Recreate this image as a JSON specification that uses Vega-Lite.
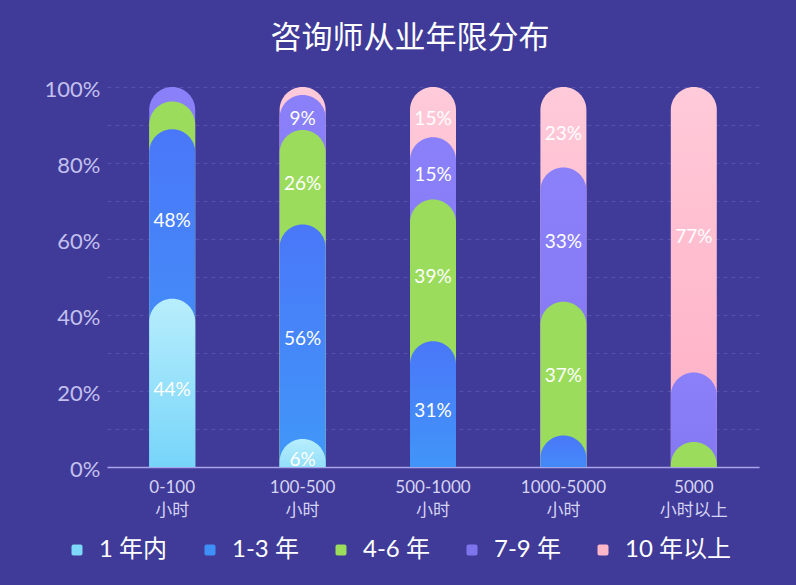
{
  "$schema": "https://vega.github.io/schema/vega-lite/v6.json",
  "width": 652,
  "height": 380,
  "autosize": {"type": "none"},
  "padding": {"left": 107, "top": 87, "right": 37, "bottom": 118},
  "background": "#403b98",
  "title": {
    "text": "咨询师从业年限分布",
    "font": "Noto Sans CJK SC",
    "fontSize": 31,
    "fontWeight": "normal",
    "color": "#ffffff",
    "offset": 23,
    "dx": -23
  },
  "data": {
    "values": [
      {"g": "0-100 小时", "c": "1 年内", "k": 1, "v": 44.3, "label": "44%"},
      {"g": "0-100 小时", "c": "1-3 年", "k": 2, "v": 44.6, "label": "48%"},
      {"g": "0-100 小时", "c": "4-6 年", "k": 3, "v": 7.3, "label": ""},
      {"g": "0-100 小时", "c": "7-9 年", "k": 4, "v": 3.8, "label": ""},
      {"g": "100-500 小时", "c": "1 年内", "k": 1, "v": 7.4, "label": "6%"},
      {"g": "100-500 小时", "c": "1-3 年", "k": 2, "v": 56.4, "label": "56%"},
      {"g": "100-500 小时", "c": "4-6 年", "k": 3, "v": 24.9, "label": "26%"},
      {"g": "100-500 小时", "c": "7-9 年", "k": 4, "v": 9.2, "label": "9%"},
      {"g": "100-500 小时", "c": "10 年以上", "k": 5, "v": 2.1, "label": ""},
      {"g": "500-1000 小时", "c": "1-3 年", "k": 2, "v": 33.1, "label": "31%"},
      {"g": "500-1000 小时", "c": "4-6 年", "k": 3, "v": 37.3, "label": "39%"},
      {"g": "500-1000 小时", "c": "7-9 年", "k": 4, "v": 16.4, "label": "15%"},
      {"g": "500-1000 小时", "c": "10 年以上", "k": 5, "v": 13.2, "label": "15%"},
      {"g": "1000-5000 小时", "c": "1-3 年", "k": 2, "v": 8.3, "label": ""},
      {"g": "1000-5000 小时", "c": "4-6 年", "k": 3, "v": 35.2, "label": "37%"},
      {"g": "1000-5000 小时", "c": "7-9 年", "k": 4, "v": 35.3, "label": "33%"},
      {"g": "1000-5000 小时", "c": "10 年以上", "k": 5, "v": 21.2, "label": "23%"},
      {"g": "5000 小时以上", "c": "4-6 年", "k": 3, "v": 6.6, "label": ""},
      {"g": "5000 小时以上", "c": "7-9 年", "k": 4, "v": 18.3, "label": ""},
      {"g": "5000 小时以上", "c": "10 年以上", "k": 5, "v": 75.1, "label": "77%"}
    ]
  },
  "transform": [
    {"stack": "v", "groupby": ["g"], "sort": [{"field": "k", "order": "ascending"}], "as": ["v0", "v1"]},
    {"calculate": "(datum.v0 + datum.v1) / 2", "as": "mid"}
  ],
  "encoding": {
    "x": {
      "field": "g",
      "type": "nominal",
      "sort": ["0-100 小时", "100-500 小时", "500-1000 小时", "1000-5000 小时", "5000 小时以上"],
      "scale": {"paddingInner": 0, "paddingOuter": 0},
      "axis": {
        "title": null,
        "labelAngle": 0,
        "labelExpr": "split(datum.label, ' ')",
        "labelFont": "Lato, Noto Sans CJK SC",
        "labelFontSize": 17,
        "labelLineHeight": 23,
        "labelColor": "#d6d4f4",
        "labelPadding": 12,
        "ticks": false,
        "domainColor": "#a9a3ea",
        "domainWidth": 1.5,
        "grid": false
      }
    },
    "y": {
      "field": "v1",
      "type": "quantitative",
      "stack": null,
      "scale": {"domain": [0, 100], "nice": false},
      "axis": {
        "title": null,
        "values": [0, 10, 20, 30, 40, 50, 60, 70, 80, 90, 100],
        "labelExpr": "datum.value % 20 === 0 ? datum.value + '%' : ''",
        "labelFont": "Lato",
        "labelFontSize": 22,
        "labelColor": "#c3c0ee",
        "labelPadding": 7,
        "labelBaseline": "middle",
        "labelOffset": 2,
        "ticks": false,
        "domain": false,
        "grid": true,
        "gridColor": "#5650ac",
        "gridDash": [4, 4],
        "gridWidth": 1
      }
    }
  },
  "layer": [
    {
      "mark": {"type": "bar", "width": 46, "opacity": 0},
      "encoding": {
        "color": {
          "field": "c",
          "type": "nominal",
          "scale": {
            "domain": ["1 年内", "1-3 年", "4-6 年", "7-9 年", "10 年以上"],
            "range": ["#7dd8fa", "#3f8ff8", "#9bdc5d", "#7e74ee", "#ffb6c8"]
          },
          "legend": {
            "title": null,
            "orient": "none",
            "direction": "horizontal",
            "legendX": -42,
            "legendY": 451,
            "labelFont": "Lato, Noto Sans CJK SC",
            "labelFontSize": 24,
            "labelColor": "#ffffff",
            "labelOffset": 10,
            "columnPadding": 30,
            "symbolType": "M-0.65,-1L0.65,-1Q1,-1 1,-0.65L1,0.65Q1,1 0.65,1L-0.65,1Q-1,1 -1,0.65L-1,-0.65Q-1,-1 -0.65,-1Z",
            "symbolSize": 121,
            "symbolStrokeWidth": 0,
            "symbolOpacity": 1
          }
        }
      }
    },
    {
      "transform": [{"filter": "datum.k == 5"}],
      "mark": {
        "type": "bar", "width": 46, "clip": true, "y2Offset": 30, "cornerRadiusTopLeft": 23, "cornerRadiusTopRight": 23,
        "color": {"gradient": "linear", "x1": 0, "y1": 0, "x2": 0, "y2": 1,
          "stops": [{"offset": 0, "color": "#ffcad9"}, {"offset": 1, "color": "#ffacc2"}]}
      },
      "encoding": {"y2": {"datum": 0}}
    },
    {
      "transform": [{"filter": "datum.k == 4"}],
      "mark": {
        "type": "bar", "width": 46, "clip": true, "y2Offset": 30, "cornerRadiusTopLeft": 23, "cornerRadiusTopRight": 23,
        "color": {"gradient": "linear", "x1": 0, "y1": 0, "x2": 0, "y2": 1,
          "stops": [{"offset": 0, "color": "#8a80f9"}, {"offset": 1, "color": "#8376f0"}]}
      },
      "encoding": {"y2": {"datum": 0}}
    },
    {
      "transform": [{"filter": "datum.k == 3"}],
      "mark": {
        "type": "bar", "width": 46, "clip": true, "y2Offset": 30, "cornerRadiusTopLeft": 23, "cornerRadiusTopRight": 23,
        "color": "#9bdc5d"
      },
      "encoding": {"y2": {"datum": 0}}
    },
    {
      "transform": [{"filter": "datum.k == 2"}],
      "mark": {
        "type": "bar", "width": 46, "clip": true, "y2Offset": 30, "cornerRadiusTopLeft": 23, "cornerRadiusTopRight": 23,
        "color": {"gradient": "linear", "x1": 0, "y1": 0, "x2": 0, "y2": 1,
          "stops": [{"offset": 0, "color": "#4a77f9"}, {"offset": 1, "color": "#3f9cf8"}]}
      },
      "encoding": {"y2": {"datum": 0}}
    },
    {
      "transform": [{"filter": "datum.k == 1"}],
      "mark": {
        "type": "bar", "width": 46, "clip": true, "y2Offset": 30, "cornerRadiusTopLeft": 23, "cornerRadiusTopRight": 23,
        "color": {"gradient": "linear", "x1": 0, "y1": 0, "x2": 0, "y2": 1,
          "stops": [{"offset": 0, "color": "#b8eefc"}, {"offset": 1, "color": "#6bd0f9"}]}
      },
      "encoding": {"y2": {"datum": 0}}
    },
    {
      "mark": {"type": "text", "font": "Lato", "fontSize": 19, "color": "#ffffff", "baseline": "middle", "yOffset": 7},
      "encoding": {
        "y": {"field": "mid", "type": "quantitative"},
        "text": {"field": "label", "type": "nominal"}
      }
    }
  ],
  "config": {"view": {"stroke": null}}
}
